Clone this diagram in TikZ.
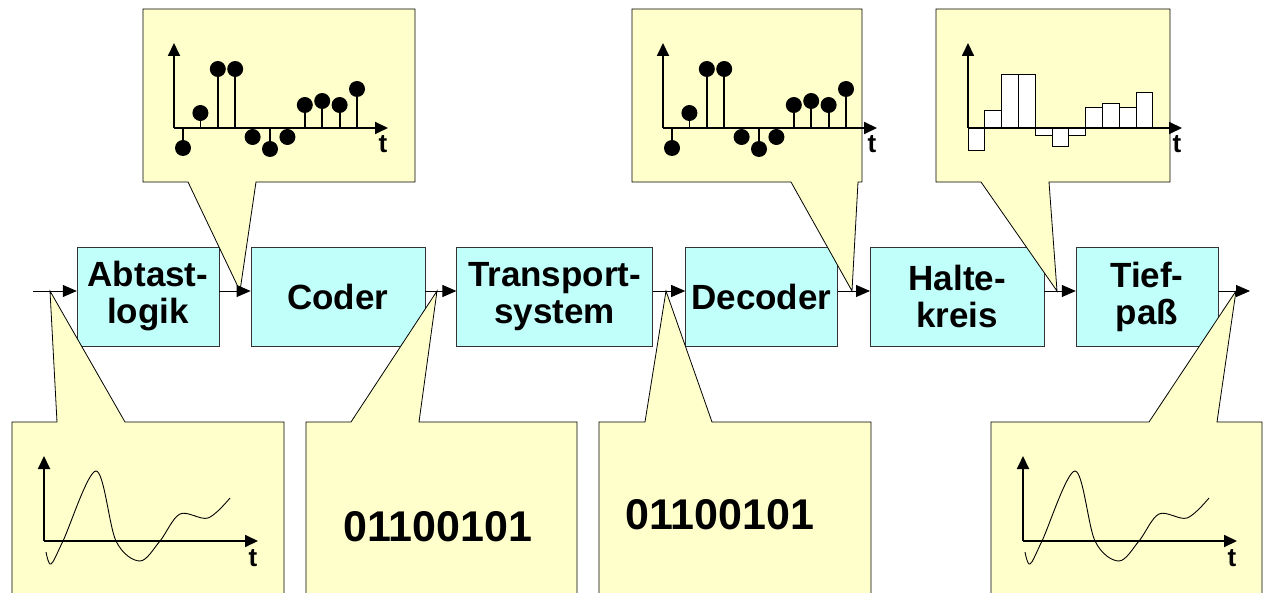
\documentclass[tikz,border=0pt]{standalone}
\usepackage{fontspec}
\setmainfont{Liberation Sans}
\usetikzlibrary{arrows.meta,positioning}

\definecolor{blockcyan}{RGB}{192,255,250}
\definecolor{noteyellow}{RGB}{255,255,204}

\begin{document}
\begin{tikzpicture}
[x=1pt,y=-1pt,
block/.style={draw=black!80,fill=blockcyan,minimum height=99pt,align=center,inner sep=0pt,
  font=\fontsize{35}{37}\selectfont\bfseries},
signal/.style={-{Triangle[length=14pt,width=12pt]},line width=0.8pt},
callout/.style={draw,fill=noteyellow,line width=0.8pt},
axis/.style={-{Triangle[length=13pt,width=12pt]},line width=1.8pt},
tlabel/.style={anchor=base,inner sep=0pt,font=\fontsize{26}{26}\selectfont\bfseries},
bits/.style={inner sep=0pt,font=\fontsize{43}{43}\selectfont\bfseries},
axes/.pic={
  \begin{scope}[y=1pt]
  \draw[axis] (0,0) -- (0,85);
  \draw[axis] (0,0) -- (214,0);
  \node[tlabel] at (209,-25) {t};
  \end{scope}},
stemplot/.pic={
  \begin{scope}[y=1pt]
  \foreach \i/\v in {1/-20,2/15,3/59,4/59,5/-9,6/-21,7/-9,8/23,9/27,10/23,11/39}{
    \draw[line width=1.8pt] ({9+(\i-1)*17.4},0) -- ++(0,\v);
    \fill ({9+(\i-1)*17.4},\v) circle (8pt);
  }
  \end{scope}
  \pic {axes};},
holdplot/.pic={
  \begin{scope}[y=1pt]
  \foreach \i/\v in {1/-22,2/18,3/54,4/54,5/-7,6/-18,7/-7,8/21,9/25,10/21,11/36}{
    \draw[fill=white,line width=0.8pt] ({(\i-1)*16.8},0) rectangle ++(16.8,\v);
  }
  \end{scope}
  \pic {axes};},
waveplot/.pic={
  \begin{scope}[y=1pt]
  \draw[line width=0.9pt] plot[smooth,tension=0.55] coordinates
    {(2,-11) (7,-23) (19,0) (52,70) (72,0) (96,-20) (116,0) (136,27) (164,23) (186,43)};
  \end{scope}
  \pic {axes};}]

\useasboundingbox (0,0) rectangle (1264,593);

% blocks
\node[block,minimum width=142pt] (abtast) at (148,296.5) {Abtast-\\logik};
\node[block,minimum width=174pt,right=31.4pt of abtast] (coder) {Coder};
\node[block,minimum width=196pt,right=31.4pt of coder] (transport) {Transport-\\system};
\node[block,minimum width=152pt,right=32.4pt of transport] (decoder) {Decoder};
\node[block,minimum width=174pt,right=32.4pt of decoder] (halte) {Halte-\\kreis};
\node[block,minimum width=142pt,right=31.4pt of halte] (tief) {Tief-\\paß};

% callouts above
\draw[callout] (143,9) -- (415,9) -- (415,182) -- (256,182) -- (240,291) -- (188,182) -- (143,182) -- cycle;
\draw[callout] (632,9) -- (862,9) -- (862,182) -- (858,182) -- (852,291) -- (791,182) -- (632,182) -- cycle;
\draw[callout] (936,9) -- (1170,9) -- (1170,182) -- (1049,182) -- (1057,291) -- (981,182) -- (936,182) -- cycle;

% callouts below
\draw[callout] (12,422) -- (57,422) -- (50,291) -- (125,422) -- (284,422) -- (284,600) -- (12,600) -- cycle;
\draw[callout] (306,422) -- (351,422) -- (437,291) -- (419,422) -- (577,422) -- (577,600) -- (306,600) -- cycle;
\draw[callout] (599,422) -- (645,422) -- (666,291) -- (712,422) -- (871,422) -- (871,600) -- (599,600) -- cycle;
\draw[callout] (991,422) -- (1149,422) -- (1236,291) -- (1217,422) -- (1262,422) -- (1262,600) -- (991,600) -- cycle;

% signals
\pic at (174,128) {stemplot};
\pic at (663,128) {stemplot};
\pic at (968,128) {holdplot};
\pic at (44,541) {waveplot};
\pic at (1023,541) {waveplot};
\node[bits] (coded) at (438,527) {01100101};
\node[bits] (received) at (720,515) {01100101};

% signal path
\coordinate (input) at (33,291);
\coordinate (output) at (1250,291);
\draw[signal] (input) -- ([yshift=5.5pt]abtast.west);
\draw[signal] ([yshift=5.5pt]abtast.east) -- ([yshift=5.5pt]coder.west);
\draw[signal] ([yshift=5.5pt]coder.east) -- ([yshift=5.5pt]transport.west);
\draw[signal] ([yshift=5.5pt]transport.east) -- ([yshift=5.5pt]decoder.west);
\draw[signal] ([yshift=5.5pt]decoder.east) -- ([yshift=5.5pt]halte.west);
\draw[signal] ([yshift=5.5pt]halte.east) -- ([yshift=5.5pt]tief.west);
\draw[signal] ([yshift=5.5pt]tief.east) -- (output);
\end{tikzpicture}
\end{document}
